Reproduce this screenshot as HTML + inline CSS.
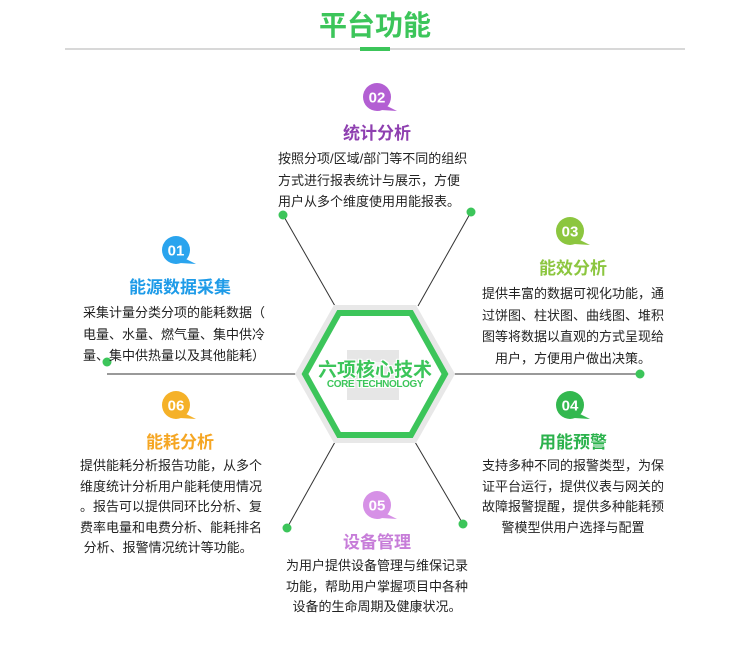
<!DOCTYPE html>
<html><head><meta charset="utf-8"><style>
body{margin:0;background:#fff;width:750px;height:648px;overflow:hidden;position:relative;font-family:"Liberation Sans","Noto Sans CJK SC",sans-serif}
.t{position:absolute;font-size:13px;line-height:21.5px;color:#222;white-space:nowrap}
.h{position:absolute;font-size:17px;font-weight:bold;white-space:nowrap;transform:translateX(-50%)}
.c{text-align:center;transform:translateX(-50%)}
.w{text-shadow:0 0 2px #fff,0 0 2px #fff,1px 1px 0 #fff,-1px -1px 0 #fff,1px -1px 0 #fff,-1px 1px 0 #fff}
</style></head><body>
<svg width="750" height="648" style="position:absolute;left:0;top:0">
<line x1="65" y1="49" x2="685" y2="49" stroke="#ccc" stroke-width="1.5"/>
<rect x="360" y="47" width="30" height="4" fill="#3cc55a"/>
<g stroke="#333" stroke-width="1">
<line x1="107" y1="374" x2="640" y2="374"/>
<line x1="283" y1="215" x2="335" y2="306"/>
<line x1="471" y1="212" x2="418" y2="306"/>
<line x1="287" y1="528" x2="335" y2="442"/>
<line x1="463" y1="524" x2="415" y2="442"/>
</g>
<g fill="#3cc55a">
<circle cx="107" cy="362" r="4.5"/><circle cx="640" cy="374" r="4.5"/>
<circle cx="283" cy="215" r="4.5"/><circle cx="471" cy="212" r="4.5"/>
<circle cx="287" cy="528" r="4.5"/><circle cx="463" cy="524" r="4.5"/>
</g>
<polygon points="295,374 334,305 416,305 455,374 416,443 334,443" fill="#e8e8e8"/>
<polygon points="305,374 339,313 411,313 445,374 411,435 339,435" fill="#fff" stroke="#3cc55a" stroke-width="6"/>
<rect x="347" y="350" width="52" height="50" fill="#e6e6e6"/>
<rect x="362" y="362" width="22" height="26" fill="#f4f4f4"/>
<g font-family="Liberation Sans, sans-serif" font-weight="bold" font-size="15" fill="#fff" text-anchor="middle">
<g transform="translate(377,97)"><circle r="14" fill="#b35fd3"/><path d="M8,8 L20,14 L4,13Z" fill="#b35fd3"/><text y="5.5">02</text></g>
<g transform="translate(176,250)"><circle r="14" fill="#2aa4ee"/><path d="M8,8 L20,14 L4,13Z" fill="#2aa4ee"/><text y="5.5">01</text></g>
<g transform="translate(570,231)"><circle r="14" fill="#8cc63f"/><path d="M8,8 L20,14 L4,13Z" fill="#8cc63f"/><text y="5.5">03</text></g>
<g transform="translate(176,405)"><circle r="14" fill="#f5b128"/><path d="M8,8 L20,14 L4,13Z" fill="#f5b128"/><text y="5.5">06</text></g>
<g transform="translate(570,405)"><circle r="14" fill="#33b84f"/><path d="M8,8 L20,14 L4,13Z" fill="#33b84f"/><text y="5.5">04</text></g>
<g transform="translate(377,505)"><circle r="14" fill="#d691e6"/><path d="M8,8 L20,14 L4,13Z" fill="#d691e6"/><text y="5.5">05</text></g>
</g>
</svg>
<div class="h" style="left:375px;top:4px;font-size:28px;color:#3cc55a">平台功能</div>
<div class="h w" style="left:375px;top:355px;font-size:19px;color:#3cc55a">六项核心技术</div>
<div class="h w" style="left:375px;top:379px;font-size:10px;color:#3cc55a;letter-spacing:-0.4px">CORE TECHNOLOGY</div>

<div class="h" style="left:377px;top:119px;color:#8e3fb0">统计分析</div>
<div class="t" style="left:278px;top:148px">按照分项/区域/部门等不同的组织<br>方式进行报表统计与展示，方便<br>用户从多个维度使用用能报表。</div>

<div class="h" style="left:180px;top:273px;color:#1e9be8">能源数据采集</div>
<div class="t" style="left:83px;top:302px">采集计量分类分项的能耗数据（<br>电量、水量、燃气量、集中供冷<br>量、集中供热量以及其他能耗）</div>

<div class="h" style="left:573px;top:254px;color:#8cc63f">能效分析</div>
<div class="t c" style="left:573px;top:283px">提供丰富的数据可视化功能，通<br>过饼图、柱状图、曲线图、堆积<br>图等将数据以直观的方式呈现给<br>用户，方便用户做出决策。</div>

<div class="h" style="left:180px;top:428px;color:#f5a623">能耗分析</div>
<div class="t" style="left:80px;top:456px;line-height:20.5px">提供能耗分析报告功能，从多个<br>维度统计分析用户能耗使用情况<br>。报告可以提供同环比分析、复<br>费率电量和电费分析、能耗排名<br>&nbsp;分析、报警情况统计等功能。</div>

<div class="h" style="left:573px;top:428px;color:#2bb24c">用能预警</div>
<div class="t c" style="left:573px;top:456px;line-height:20.5px">支持多种不同的报警类型，为保<br>证平台运行，提供仪表与网关的<br>故障报警提醒，提供多种能耗预<br>警模型供用户选择与配置</div>

<div class="h" style="left:377px;top:528px;color:#c77dd9">设备管理</div>
<div class="t c" style="left:377px;top:556px;line-height:20.5px">为用户提供设备管理与维保记录<br>功能，帮助用户掌握项目中各种<br>设备的生命周期及健康状况。</div>
</body></html>
